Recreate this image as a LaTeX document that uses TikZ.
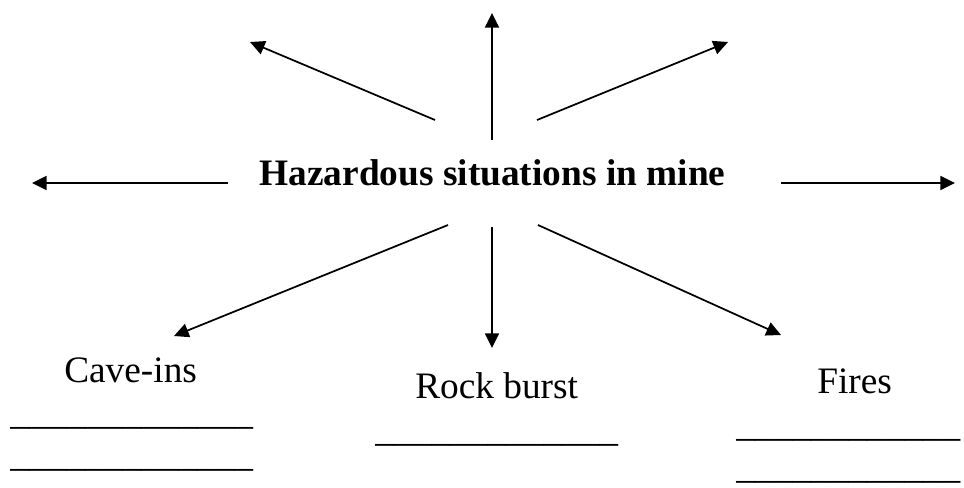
\documentclass[tikz,border=0pt]{standalone}
\usepackage{fontspec}
\setmainfont{Liberation Serif}
\usetikzlibrary{arrows.meta, positioning}
\tikzset{
  title/.style={font=\fontsize{28}{32}\selectfont\bfseries, inner sep=0pt, anchor=base},
  hazard/.style={font=\fontsize{28}{32}\selectfont, inner sep=0pt, anchor=base west},
  blank/.style={font=\fontsize{28}{32}\selectfont, inner sep=0pt, anchor=base west},
  arr/.style={-{Triangle[length=11pt, width=10.5pt]}, line width=1.3pt},
}

\begin{document}
\begin{tikzpicture}[x=0.75pt, y=-0.75pt]
\useasboundingbox (0,0) rectangle (964,487);

% ---------- centre ----------
\node[title] (haz) at (492.5,185) {Hazardous situations in mine};

% ---------- arrow ends ----------
\coordinate (sNW) at (435,120);  \coordinate (tNW) at (250,42);
\coordinate (sN)  at (492,140);  \coordinate (tN)  at (492,13);
\coordinate (sNE) at (537,120);  \coordinate (tNE) at (728,42);
\coordinate (sW)  at (228,183);  \coordinate (tW)  at (32,183);
\coordinate (sE)  at (781,183);  \coordinate (tE)  at (955,183);
\coordinate (sSW) at (448,225);  \coordinate (tSW) at (174,336);
\coordinate (sS)  at (492,227);  \coordinate (tS)  at (492,348);
\coordinate (sSE) at (538,225);  \coordinate (tSE) at (781,335);

% ---------- hazards ----------
\node[hazard] (cave) at (64,382) {Cave-ins};
\node[hazard] (rock) at (415,398) {Rock burst};
\node[hazard] (fire) at (817,393) {Fires};

\node[blank] (cave1) at (10,424.5) {\_\_\_\_\_\_\_\_\_\_\_\_\_};
\node[blank] (cave2) at (10,466.5) {\_\_\_\_\_\_\_\_\_\_\_\_\_};
\node[blank] (rock1) at (375,441.5) {\_\_\_\_\_\_\_\_\_\_\_\_\_};
\node[blank] (fire1) at (736,436.5) {\_\_\_\_\_\_\_\_\_\_\_\_};
\node[blank] (fire2) at (736,478.5) {\_\_\_\_\_\_\_\_\_\_\_\_};

\draw[arr] (sNW) -- (tNW);
\draw[arr] (sN) -- (tN);
\draw[arr] (sNE) -- (tNE);
\draw[arr] (sW) -- (tW);
\draw[arr] (sE) -- (tE);
\draw[arr] (sSW) -- (tSW);
\draw[arr] (sS) -- (tS);
\draw[arr] (sSE) -- (tSE);

\end{tikzpicture}
\end{document}
